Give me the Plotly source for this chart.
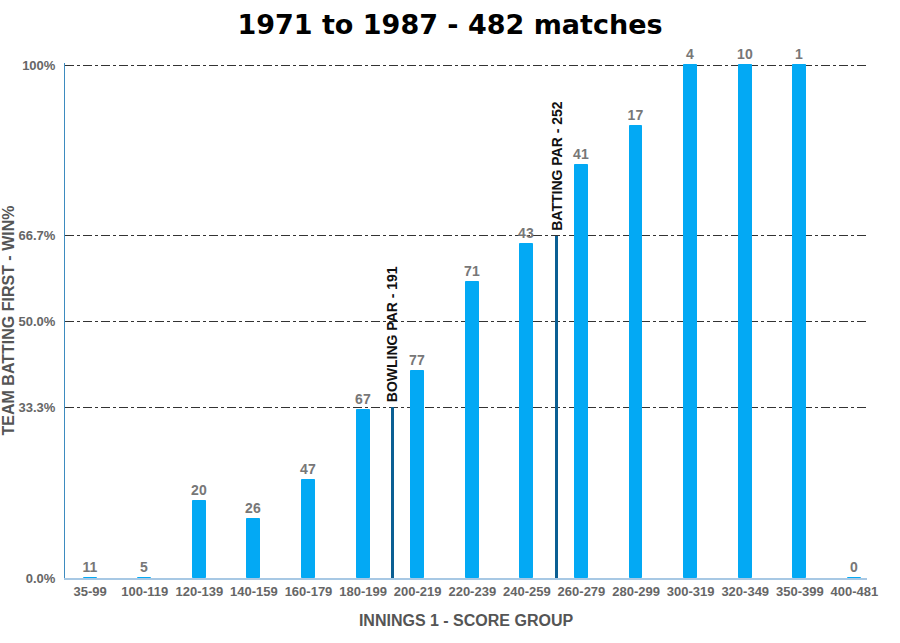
import plotly.graph_objects as go

categories = ["35-99", "100-119", "120-139", "140-159", "160-179", "180-199", "200-219",
              "220-239", "240-259", "260-279", "280-299", "300-319", "320-349", "350-399", "400-481"]
win_pct = [0, 0, 15.0, 11.5, 19.1, 32.8, 40.3, 57.7, 65.1, 80.5, 88.2, 100, 100, 100, 0]
matches = [11, 5, 20, 26, 47, 67, 77, 71, 43, 41, 17, 4, 10, 1, 0]

par_labels = ["BOWLING PAR - 191", "BATTING PAR - 252"]
par_pos = [5.53, 8.55]
par_pct = [33.3, 66.7]

tick_vals = [0, 33.3, 50, 66.7, 100]
tick_text = ["0.0%", "33.3%", "50.0%", "66.7%", "100%"]

x_idx = list(range(len(categories)))

fig = go.Figure()
fig.add_trace(go.Bar(
    x=x_idx, y=win_pct, width=0.235,
    marker=dict(color="#03A9F4", line=dict(color="#03A9F4", width=1)),
    text=[str(m) for m in matches], textposition="outside", constraintext="none",
    textfont=dict(family="Arial", size=14, color="#777777", weight="bold"),
    cliponaxis=False, hoverinfo="skip", showlegend=False,
))
fig.add_trace(go.Bar(
    x=par_pos, y=par_pct, width=0.055,
    marker=dict(color="#0B5F93", line=dict(width=0)),
    hoverinfo="skip", showlegend=False,
))

for lbl, xp, yp in zip(par_labels, par_pos, par_pct):
    fig.add_annotation(x=xp, y=yp, text=lbl, textangle=-90, showarrow=False,
                       xanchor="center", yanchor="bottom", yshift=3,
                       font=dict(family="Arial", size=14, color="#111111", weight="bold"))

fig.update_layout(
    width=900, height=643,
    margin=dict(l=65, r=33, t=63, b=65),
    paper_bgcolor="white", plot_bgcolor="white",
    barmode="overlay", bargap=0,
    title=dict(text="1971 to 1987 - 482 matches", x=0.5, xanchor="center", y=0.962, yanchor="middle",
               font=dict(family="DejaVu Sans", size=27, color="#000000", weight="bold")),
    xaxis=dict(
        range=[-0.46, 14.23], tickmode="array", tickvals=x_idx, ticktext=categories,
        tickfont=dict(family="Arial", size=13, color="#666666", weight="bold"),
        showgrid=False, zeroline=False, showline=True, linecolor="#A7C8E4", linewidth=2,
        ticks="", automargin=False,
        title=dict(text="INNINGS 1 - SCORE GROUP", standoff=17,
                   font=dict(family="Arial", size=16, color="#555555", weight="bold")),
    ),
    yaxis=dict(
        range=[0, 100.4], tickmode="array", tickvals=tick_vals, ticktext=tick_text,
        tickfont=dict(family="Arial", size=13, color="#666666", weight="bold"),
        showgrid=True, gridcolor="#333333", griddash="dashdot", gridwidth=1,
        zeroline=False, showline=True, linecolor="#3D8BBF", linewidth=1,
        ticks="", ticklabelstandoff=6, automargin=False,
        title=dict(text="TEAM BATTING FIRST - WIN%", standoff=0,
                   font=dict(family="Arial", size=16, color="#555555", weight="bold")),
    ),
)

fig.write_html("out.html")
